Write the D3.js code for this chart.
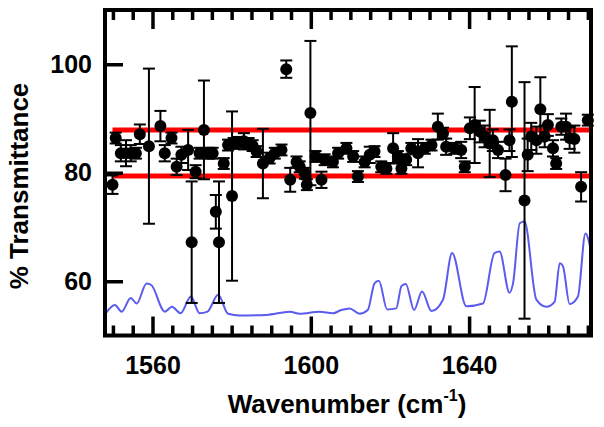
<!DOCTYPE html>
<html>
<head>
<meta charset="utf-8">
<script src="https://cdn.jsdelivr.net/npm/d3@7"></script>
<style>
  html, body { margin: 0; padding: 0; background: #fff; }
  svg { display: block; }
  text { font-family: "Liberation Sans", Arial, Helvetica, sans-serif; font-weight: bold; fill: #000; }
</style>
</head>
<body>
<svg id="chart" width="604" height="427"></svg>
<script>
// ---- data ----
const wavenumber = [1549.9,1550.7,1552.0,1553.3,1554.5,1555.8,1556.8,1559.1,1562.0,1563.1,1564.8,1566.1,1567.3,1569.0,1569.9,1570.9,1571.9,1573.0,1574.2,1575.2,1576.0,1576.8,1578.0,1579.1,1580.1,1580.5,1581.8,1583.1,1584.3,1585.3,1586.3,1587.9,1589.6,1590.9,1592.6,1593.8,1594.8,1596.4,1597.2,1598.5,1599.0,1599.9,1601.2,1602.7,1603.5,1605.6,1606.9,1609.0,1610.7,1611.9,1613.6,1614.9,1616.1,1617.8,1619.1,1620.8,1622.0,1622.9,1624.1,1625.4,1627.1,1628.8,1630.5,1632.1,1633.4,1634.2,1636.3,1638.0,1638.9,1640.2,1641.4,1642.7,1643.9,1645.2,1646.0,1647.3,1649.2,1650.2,1650.8,1654.0,1654.8,1655.7,1657.0,1658.0,1659.1,1659.9,1661.2,1662.0,1663.3,1664.5,1665.4,1666.6,1668.3,1670.0];
const transmittance = [77.8,86.4,83.6,83.6,83.6,83.6,87.1,84.9,88.6,83.6,86.4,81.1,83.3,84.2,67.2,80.2,83.6,87.9,83.6,83.6,72.8,67.2,81.7,85.1,75.7,85.4,85.6,85.8,85.4,85.0,83.9,81.7,82.7,83.6,84.2,99.1,78.7,82.0,81.1,79.9,77.8,91.0,83.0,78.7,82.4,82.0,83.6,84.5,83.0,79.3,82.0,83.3,83.9,81.1,80.8,84.5,83.0,80.8,82.4,84.5,83.6,84.5,85.1,88.5,87.3,84.8,84.5,84.2,81.1,88.2,88.8,87.6,86.7,85.4,86.0,84.2,79.6,86.0,93.1,74.9,83.3,86.7,86.0,91.7,86.7,88.8,84.5,81.7,88.5,88.5,86.4,86.2,77.4,89.7];
const errorBar = [1.7,1.0,1.5,2.4,1.5,1.0,1.8,14.3,2.8,1.5,1.0,1.5,1.5,3.7,11.2,1.2,1.0,9.1,1.0,1.0,3.1,11.2,1.0,1.0,15.6,1.0,1.0,1.5,1.0,1.0,1.0,6.4,1.0,1.0,1.0,1.6,2.2,1.0,1.0,1.0,1.0,13.3,1.0,1.5,1.0,1.0,1.0,1.0,1.0,1.0,1.0,1.5,1.0,1.0,1.0,2.8,1.0,1.0,1.0,1.0,2.6,1.0,1.0,2.4,1.0,1.5,1.0,1.5,1.0,2.0,7.0,2.0,2.0,6.2,2.0,1.5,3.0,2.0,10.2,21.8,3.0,2.5,2.5,5.9,2.0,2.0,1.5,1.0,1.5,2.4,2.0,2.5,2.7,1.0];

const spectrumX = [1548.2,1550.5,1552.2,1554.5,1556.0,1558.5,1559.7,1563.1,1564.9,1567.1,1569.7,1571.9,1573.9,1576.6,1579.1,1582.0,1588.8,1594.7,1597.2,1602.2,1605.6,1607.7,1609.8,1612.3,1614.4,1616.1,1617.2,1619.3,1621.6,1622.9,1624.0,1626.1,1628.1,1630.5,1633.4,1635.7,1639.3,1643.5,1646.4,1647.7,1650.2,1651.1,1652.8,1654.0,1657.0,1659.5,1661.6,1662.9,1663.7,1665.4,1667.5,1669.4,1670.9];
const spectrumY = [54.1,55.6,54.4,56.9,55.9,59.6,59.3,54.4,55.3,54.1,57.2,54.1,54.4,57.5,54.0,53.7,53.8,54.4,54.0,54.4,54.1,54.7,55.0,54.0,54.7,59.6,60.1,54.8,55.0,59.1,59.5,54.7,58.1,54.5,56.6,65.2,55.4,55.9,65.2,65.5,57.9,59.6,70.7,71.0,56.6,55.3,56.2,63.3,62.8,55.8,57.2,68.8,65.2];

const limitLines = [87.9, 79.4];
const limitRange = [1549.9, 1670.3];

const xMajorTicks = [1560, 1600, 1640];
const xMinorTicks = [1550,1555,1565,1570,1575,1580,1585,1590,1595,1605,1610,1615,1620,1625,1630,1635,1645,1650,1655,1660,1665,1670];
const yTicks = [60, 80, 100];
const xLabel = "Wavenumber (cm";
const yLabel = "% Transmittance";

// ---- layout ----
const svg = d3.select("#chart");
const L = 105, R = 591, T = 10, B = 335.5;
const x = d3.scaleLinear().domain([1548, 1670.8]).range([L, R]);
const y = d3.scaleLinear().domain([110, 50]).range([T, B]);

// spectrum
svg.append("path")
  .datum(spectrumX.map((d, i) => [d, spectrumY[i]]))
  .attr("fill", "none")
  .attr("stroke", "#5b5bf0")
  .attr("stroke-width", 2)
  .attr("d", d3.line().curve(d3.curveMonotoneX).x(d => x(d[0])).y(d => y(d[1])));

// red limit lines
svg.selectAll(".limit").data(limitLines).enter().append("line")
  .attr("x1", x(limitRange[0])).attr("x2", x(limitRange[1]))
  .attr("y1", d => y(d)).attr("y2", d => y(d))
  .attr("stroke", "#ff0000").attr("stroke-width", 5);

// error bars
const pts = wavenumber.map((w, i) => ({w, v: transmittance[i], e: errorBar[i]}));
const eb = svg.append("g").attr("stroke", "#000").attr("stroke-width", 2);
pts.forEach(p => {
  eb.append("line").attr("x1", x(p.w)).attr("x2", x(p.w)).attr("y1", y(p.v - p.e)).attr("y2", y(p.v + p.e));
  [p.v - p.e, p.v + p.e].forEach(v => {
    eb.append("line").attr("x1", x(p.w) - 6).attr("x2", x(p.w) + 6).attr("y1", y(v)).attr("y2", y(v));
  });
});

// points
svg.append("g").selectAll("circle").data(pts).enter().append("circle")
  .attr("cx", d => x(d.w)).attr("cy", d => y(d.v)).attr("r", 6).attr("fill", "#000");

// axes ticks
function styleTicks(g, w) {
  g.select(".domain").remove();
  g.selectAll(".tick line").attr("stroke", "#000").attr("stroke-width", w);
}
const tickFont = g => g.selectAll("text").attr("font-size", 25)
  .style("font-family", "'Liberation Sans', Arial, sans-serif").style("font-weight", "bold");
svg.append("g").attr("transform", `translate(0,${B})`)
  .call(d3.axisBottom(x).tickValues(xMinorTicks).tickSize(-10).tickFormat(""))
  .call(g => styleTicks(g, 3.5));
svg.append("g").attr("transform", `translate(0,${B})`)
  .call(d3.axisBottom(x).tickValues(xMajorTicks).tickSize(-19).tickPadding(21).tickFormat(d3.format("d")))
  .call(g => styleTicks(g, 3.5))
  .call(tickFont);
svg.append("g").attr("transform", `translate(0,${T})`)
  .call(d3.axisTop(x).tickValues(xMinorTicks).tickSize(-10).tickFormat(""))
  .call(g => styleTicks(g, 3.5));
svg.append("g").attr("transform", `translate(0,${T})`)
  .call(d3.axisTop(x).tickValues(xMajorTicks).tickSize(-19).tickFormat(""))
  .call(g => styleTicks(g, 3.5));
svg.append("g").attr("transform", `translate(${L},0)`)
  .call(d3.axisLeft(y).tickValues(yTicks).tickSize(-18).tickPadding(13).tickFormat(d3.format("d")))
  .call(g => styleTicks(g, 3.5))
  .call(tickFont);

// frame
svg.append("rect").attr("x", L).attr("y", T).attr("width", R - L).attr("height", B - T)
  .attr("fill", "none").attr("stroke", "#000").attr("stroke-width", 4);

// axis titles
const xt = svg.append("text").attr("x", 347).attr("y", 413).attr("text-anchor", "middle").attr("font-size", 26);
xt.append("tspan").text(xLabel);
xt.append("tspan").attr("font-size", 16).attr("dy", -12).text("-1");
xt.append("tspan").attr("dy", 12).text(")");

svg.append("text").attr("transform", `translate(28,186) rotate(-90)`)
  .attr("text-anchor", "middle").attr("font-size", 26).text(yLabel);
</script>
</body>
</html>
